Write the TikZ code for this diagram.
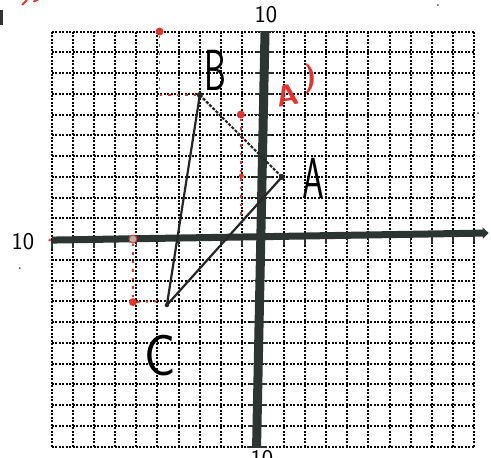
\documentclass[tikz,border=0pt]{standalone}
\usepackage{fontspec}
\usetikzlibrary{arrows.meta}
\definecolor{axisc}{HTML}{2C3532}
\definecolor{redc}{HTML}{E0352F}
\tikzset{
  gridline/.style={black, line width=2pt, dash pattern=on 2pt off 1.5pt},
  axisline/.style={axisc, line width=7pt},
  tickline/.style={axisc, line width=1.6pt},
  triline/.style={black!85, line width=2.2pt},
  tridash/.style={black!85, line width=2.2pt, dash pattern=on 3pt off 1.5pt},
  redguide/.style={redc, line width=1.8pt, dash pattern=on 2.5pt off 6pt},
  reddot/.style={circle, fill=redc, inner sep=0pt, minimum size=8pt},
  vertexdot/.style={circle, fill=black!85, inner sep=0pt, minimum size=6pt},
  noise/.style={circle, fill=black!70, inner sep=0pt, minimum size=2pt},
  hand/.style={font=\sffamily\fontsize{58}{58}\selectfont, inner sep=0pt},
  redhand/.style={font=\sffamily\bfseries\fontsize{30}{30}\selectfont, inner sep=0pt, text=redc},
  numlabel/.style={font=\sffamily\fontsize{24}{24}\selectfont, inner sep=0pt},
}
\begin{document}
\begin{tikzpicture}[x=21.1pt, y=20.75pt]
\useasboundingbox[fill=white] (-12.46,-10.55) rectangle (10.81,11.52);

% dotted grid
\foreach \i in {-10,...,-1,1,2,...,10} {
  \draw[gridline] (\i,-10) -- (\i,10);
  \draw[gridline] (-10,\i) -- (10,\i);
}

% ticks
\foreach \i in {-10,...,-1,1,2,...,10} {
  \draw[tickline] (\i,{0.115+0.0165*\i-0.42}) -- (\i,{0.115+0.0165*\i});
  \draw[tickline] ({-0.1+0.02*\i-0.42},\i) -- ({-0.1+0.02*\i+0.45},\i);
}

% axes
\coordinate (xl) at (-10,-0.05);
\coordinate (xr) at (10.7,0.29);
\coordinate (yt) at (0.1,10);
\coordinate (yb) at (-0.3,-10);
\draw[axisline, -{Triangle[length=6pt,width=11pt]}] (xl) -- (xr);
\draw[axisline, line width=9pt] (yt) -- (yb);
\draw[tickline, line width=2pt] (-0.75,-10.02) -- (0.2,-10.02);

% labels 10
\node[numlabel] (n10t) at (0.14,10.8) {10};
\node[numlabel] (n10l) at (-11.37,-0.14) {10};
\node[numlabel] (n10b) at (-0.05,-10.6) {10};

% triangle
\coordinate (A) at (0.9,2.99);
\coordinate (B) at (-2.99,6.94);
\coordinate (C) at (-4.55,-3.18);

% red guides
\node[reddot] (R1) at (-4.9,10) {};
\node[reddot] (R2) at (-1.05,6) {};
\node[reddot, fill=gray!60, draw=redc, line width=1pt] (R3) at (-6.16,0) {};
\node[reddot] (R4) at (-6.16,-3.04) {};
\coordinate (R2end) at (-1.05,1.0);
\coordinate (R4end) at (-4.95,-3.0);
\draw[redguide] (R1) |- (B);
\draw[redguide] (R2) -- (R2end);
\draw[redguide] (R3) -- (R4);
\draw[redguide] (R4) -- (R4end);
\node[reddot, minimum size=5pt] (R5) at (-1.02,3.05) {};
\node[reddot, minimum size=3pt] (R6) at (-10.1,-0.05) {};

\draw[tridash] (B) -- (A);
\draw[triline] (A) -- (C);
\draw[triline] (B) -- (C);
\node[vertexdot] (Ad) at (A) {};
\node[vertexdot] (Bd) at (B) {};
\node[vertexdot, minimum size=4.5pt] (Cd) at (C) {};

% handwritten labels
\node[hand, xscale=0.6] (lB) at (-2.23,8.14) {B};
\node[hand, xscale=0.6] (lA) at (2.37,2.94) {A};
\node[hand, xscale=0.9] (lC) at (-4.88,-5.64) {C};
\node[redhand, rotate=10] (lAp) at (1.18,6.94) {A};
\node[redhand] (lApp) at (2.23,7.71) {)};

% scan marks
\draw[black!80, line width=2.5pt] (-12.38,10.31) -- (-12.38,11.04);
\draw[redc, line width=2pt, line cap=round] (-11.4,11.3) -- (-11.2,11.5);
\draw[redc, line width=2pt, line cap=round] (-10.85,11.45) -- (-10.65,11.55);
\node[noise] (z1) at (10.19,6.07) {};
\node[noise] (z2) at (-11.52,-1.4) {};
\node[noise] (z3) at (8.29,11.28) {};
\end{tikzpicture}
\end{document}
